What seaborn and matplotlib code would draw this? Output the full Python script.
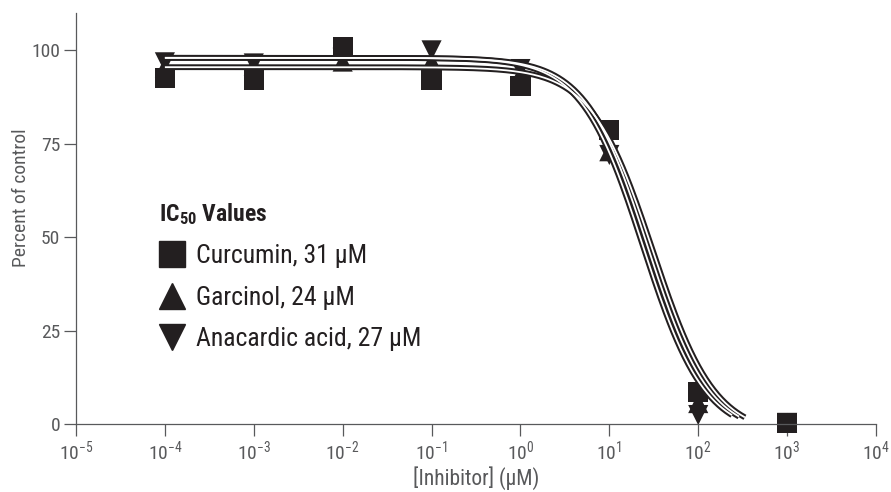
import numpy as np
import pandas as pd
import matplotlib
matplotlib.use("Agg")
import matplotlib.pyplot as plt
from matplotlib import font_manager as fm
from matplotlib.lines import Line2D
import seaborn as sns

# measured points, percent of control at each inhibitor concentration (uM)
conc = [1e-4, 1e-3, 1e-2, 1e-1, 1e0, 1e1, 1e2, 1e3]
curcumin = [92.6, 92.0, 101.0, 92.0, 90.5, 78.7, 8.6, 0.3]
garcinol = [95.5, 96.0, 97.0, 97.0, 93.5, 73.0, 5.6, 0.3]
anacardic = [96.8, 96.5, 98.0, 100.0, 95.0, 72.0, 2.4, 0.3]

compounds = ["Curcumin", "Garcinol", "Anacardic acid"]
ic50 = [31, 24, 27]
markers = ["s", "^", "v"]

# dose-response fit parameters of the drawn curves
fit_top = [95.5, 98.0, 98.0]
fit_bottom = [-3.0, -3.0, -3.0]
fit_hill = [1.25, 1.25, 1.25]
fit_end = [335, 240, 288]

xticks = [-5, -4, -3, -2, -1, 0, 1, 2, 3, 4]
yticks = [0, 25, 50, 75, 100]

GREY = "#58595b"
INK = "#231f20"

installed = {f.name for f in fm.fontManager.ttflist}
cond = next((f for f in ["Roboto Condensed", "Archivo Narrow", "IBM Plex Sans Condensed",
                         "Fira Sans Condensed"] if f in installed), "DejaVu Sans")

sns.set_theme(style="ticks")
plt.rcParams["font.family"] = [cond, "DejaVu Sans"]
plt.rcParams["mathtext.fontset"] = "custom"
plt.rcParams["mathtext.rm"] = cond
plt.rcParams["mathtext.bf"] = cond + ":bold"

df = pd.DataFrame({
    "conc": conc * 3,
    "pct": curcumin + garcinol + anacardic,
    "compound": np.repeat(compounds, len(conc)),
})

fig = plt.figure(figsize=(8.91, 4.92), dpi=100)
ax = fig.add_axes([76 / 891, 68 / 492, 800 / 891, 411 / 492])

sns.scatterplot(data=df, x="conc", y="pct", style="compound",
                markers=dict(zip(compounds, markers)), color=INK, s=210,
                linewidth=0, legend=False, ax=ax, clip_on=False, zorder=2)

# fitted curves, drawn as a black line with a white core
for top, bot, h, c, end in zip(fit_top, fit_bottom, fit_hill, ic50, fit_end):
    xs = np.logspace(-4, np.log10(end), 300)
    ys = bot + (top - bot) / (1 + (xs / c) ** h)
    ax.plot(xs, ys, color=INK, lw=4.2, solid_capstyle="butt", zorder=3)
    ax.plot(xs, ys, color="white", lw=1.3, solid_capstyle="butt", zorder=4)

ax.set_xscale("log")
ax.set_xlim(1e-5, 1e4)
ax.set_ylim(0, 110)
ax.set_xticks([10.0 ** k for k in xticks])
ax.set_xticklabels([f"$10^{{{k}}}$" for k in xticks])
ax.minorticks_off()
ax.set_yticks(yticks)
sns.despine(ax=ax)
for s in ["left", "bottom"]:
    ax.spines[s].set_color(GREY)
    ax.spines[s].set_linewidth(0.9)
ax.tick_params(length=8.5, width=0.9, color=GREY, labelcolor=GREY,
               labelsize=14, pad=3)
ax.set_xlabel("[Inhibitor] (μM)", fontsize=15.5, color=GREY)
ax.xaxis.set_label_coords(0.5, -0.103)
ax.set_ylabel("Percent of control", fontsize=14, color=GREY)
ax.yaxis.set_label_coords(-0.057, 0.55)

handles = [Line2D([], [], marker=m, ls="none", color=INK, markersize=19,
                  label=f"{n}, {v} μM")
           for n, m, v in zip(compounds, markers, ic50)]
leg = ax.legend(handles=handles, title=r"$\mathbf{IC_{50}}$ Values",
                loc="upper left", bbox_to_anchor=(159 / 891, 1 - 201 / 492),
                bbox_transform=fig.transFigure, frameon=False, alignment="left",
                fontsize=18.5, title_fontproperties={"weight": "bold", "size": 17},
                handlelength=1.0, handletextpad=0.45, labelspacing=0.68,
                borderpad=0, borderaxespad=0)
for t in leg.get_texts():
    t.set_color(INK)
leg.get_title().set_color(INK)

fig.savefig("out.png", dpi=100)
